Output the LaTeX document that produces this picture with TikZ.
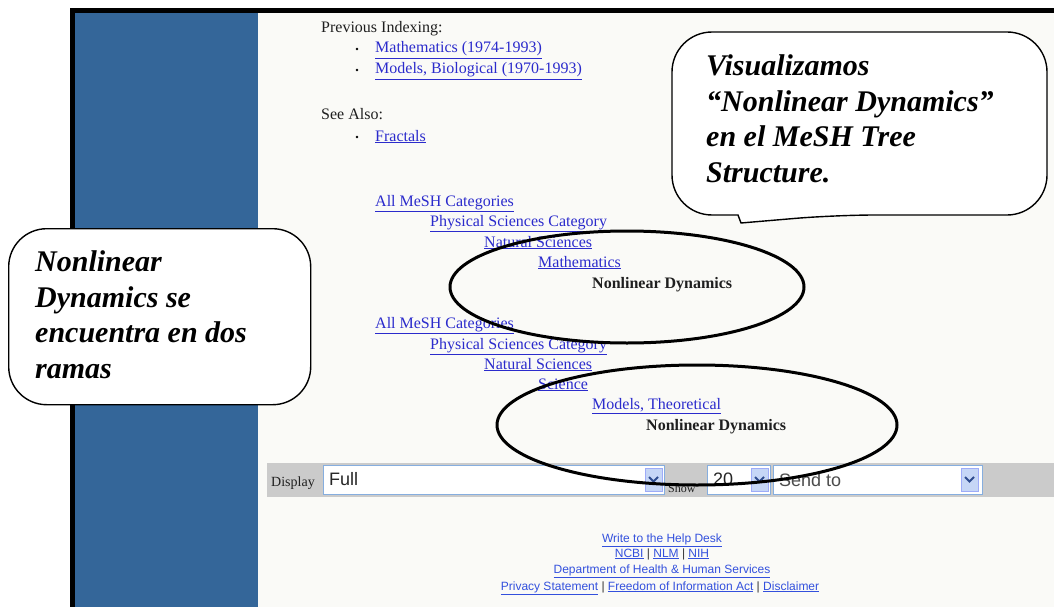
\documentclass[tikz,border=0pt]{standalone}
\usepackage{fontspec}
\setmainfont{Liberation Serif}
\newfontfamily\uisans{Liberation Sans}
\usetikzlibrary{shapes.geometric}
\definecolor{colblue}{HTML}{346699}
\definecolor{pagebg}{HTML}{FAFAF7}
\definecolor{linkblue}{HTML}{2B2BCC}
\definecolor{footblue}{HTML}{3350DD}
\definecolor{bargray}{HTML}{CBCBCB}
\definecolor{boxline}{HTML}{86AEDF}
\definecolor{btnfill}{HTML}{C6D6F6}
\definecolor{chev}{HTML}{2E4C8F}
\newcommand{\lnk}[1]{\underline{#1}}
\begin{document}
\begin{tikzpicture}[x=1pt,y=-1pt,
  pagetxt/.style={anchor=base west,inner sep=0pt,font=\fontsize{16}{18}\selectfont,text=black!88},
  linktxt/.style={pagetxt,text=linkblue},
  boldtxt/.style={pagetxt,font=\fontsize{16}{18}\selectfont\bfseries},
  foot/.style={anchor=base,inner sep=0pt,font=\uisans\fontsize{12}{14}\selectfont,text=footblue},
  ring/.style={draw=black,ellipse,line width=3pt,inner sep=0pt},
  callout/.style={draw=black,line width=1.4pt,fill=white},
  calltxt/.style={font=\fontsize{30}{35.5}\selectfont\bfseries\itshape,align=left,inner sep=0pt,anchor=north west},
  field/.style={draw=boxline,fill=white,line width=1.2pt,anchor=north west,inner sep=0pt},
  btn/.style={fill=btnfill,draw=btnfill!80!blue,line width=0.6pt,anchor=north west,inner sep=0pt,minimum width=17,minimum height=23},
  chevron/.style={draw=chev,line width=1.8pt},
  uitxt/.style={anchor=base west,inner sep=0pt,font=\uisans\fontsize{18}{20}\selectfont,text=black!85}
]
\useasboundingbox (0,0) rectangle (1054,607);
\fill[white] (0,0) rectangle (1054,607);
% page frame
\fill[pagebg] (75,13) rectangle (1054,607);
\fill[colblue] (75,13) rectangle (258,607);
\fill[black] (70,8) rectangle (1054,13);
\fill[black] (70,8) rectangle (75,607);

% previous indexing
\node[pagetxt] (prev) at (321,33) {Previous Indexing:};
\fill[black] (357,49) circle (1.3);
\node[linktxt] (math) at (375,53) {\lnk{Mathematics (1974-1993)}};
\fill[black] (357,70) circle (1.3);
\node[linktxt] (bio) at (375,74) {\lnk{Models, Biological (1970-1993)}};
\node[pagetxt] (see) at (321,120) {See Also:};
\fill[black] (357,137) circle (1.3);
\node[linktxt] (frac) at (375,141) {\lnk{Fractals}};

% tree 1
\node[linktxt] (a1) at (375,206) {\lnk{All MeSH Categories}};
\node[linktxt] (a2) at (430,226) {\lnk{Physical Sciences Category}};
\node[linktxt] (a3) at (484,247) {\lnk{Natural Sciences}};
\node[linktxt] (a4) at (538,267) {\lnk{Mathematics}};
\node[boldtxt] (a5) at (592,288) {Nonlinear Dynamics};

% tree 2
\node[linktxt] (b1) at (375,328) {\lnk{All MeSH Categories}};
\node[linktxt] (b2) at (430,349) {\lnk{Physical Sciences Category}};
\node[linktxt] (b3) at (484,369) {\lnk{Natural Sciences}};
\node[linktxt] (b4) at (538,389) {\lnk{Science}};
\node[linktxt] (b5) at (592,409) {\lnk{Models, Theoretical}};
\node[boldtxt] (b6) at (646,430) {Nonlinear Dynamics};

% display bar
\fill[bargray] (267,463) rectangle (1054,497);
\node[pagetxt,font=\fontsize{14}{16}\selectfont] (displbl) at (271,486) {Display};
\node[field,minimum width=341,minimum height=29] (fullbox) at (323,465) {};
\node[uitxt] (fulltxt) at (329,485) {Full};
\node[btn] (fullbtn) at (645,468) {};
\draw[chevron] (649,477) -- (653.5,481.5) -- (658,477);
\node[pagetxt,font=\fontsize{12}{14}\selectfont] (showlbl) at (668,492) {Show};
\node[field,minimum width=63,minimum height=29] (numbox) at (707,465) {};
\node[uitxt] (numtxt) at (713,485) {20};
\node[btn] (numbtn) at (751,468) {};
\draw[chevron] (755,477) -- (759.5,481.5) -- (764,477);
\node[field,minimum width=209,minimum height=29] (sendbox) at (773,465) {};
\node[uitxt,text=black!70] (sendtxt) at (779,486) {Send to};
\node[btn] (sendbtn) at (961,468) {};
\draw[chevron] (965,477) -- (969.5,481.5) -- (974,477);

% footer
\node[foot] (help) at (662,542) {\lnk{Write to the Help Desk}};
\node[foot] (orgs) at (662,557) {\lnk{NCBI} {\color{black!80}|} \lnk{NLM} {\color{black!80}|} \lnk{NIH}};
\node[foot] (dept) at (662,573) {\lnk{Department of Health \& Human Services}};
\node[foot] (legal) at (660,590) {\lnk{Privacy Statement} {\color{black!80}|} \lnk{Freedom of Information Act} {\color{black!80}|} \lnk{Disclaimer}};

% highlight ellipses
\node[ring,minimum width=354,minimum height=112] (ring1) at (627,287) {};
\node[ring,minimum width=400,minimum height=120] (ring2) at (697,425) {};

% left callout
\node[callout,rounded corners=38,minimum width=302,minimum height=176,anchor=north west] (leftbox) at (8,228) {};
\node[calltxt] (lefttext) at (35,250.5) {Nonlinear\\Dynamics se\\encuentra en dos\\ramas};

% right callout
\draw[callout] (860,32) [rounded corners=40] -- (1047,32) -- (1047,215) -- (835,215) [sharp corners] -- (741,223) -- (738,215) [rounded corners=40] -- (672,215) -- (672,32) -- cycle;
\node[calltxt] (righttext) at (706,54.5) {Visualizamos\\“Nonlinear Dynamics”\\en el MeSH Tree\\Structure.};
\end{tikzpicture}
\end{document}
